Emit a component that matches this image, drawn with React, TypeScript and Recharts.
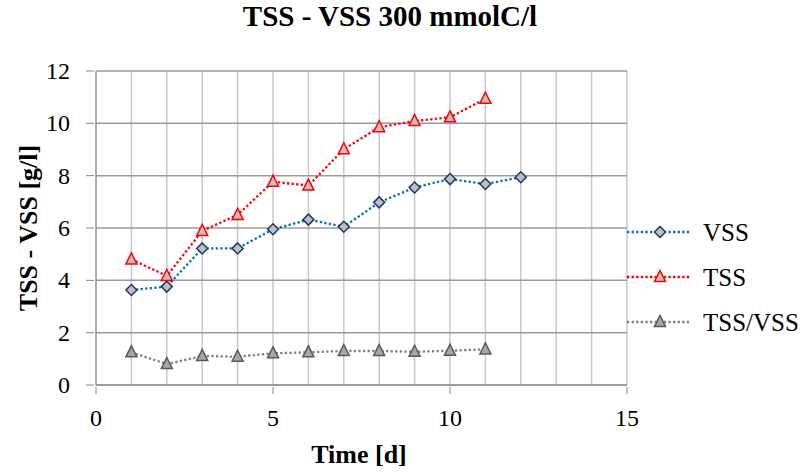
import { LineChart, Line, XAxis, YAxis, CartesianGrid } from 'recharts';

const days = [1, 2, 3, 4, 5, 6, 7, 8, 9, 10, 11, 12];
const vss = [3.63, 3.76, 5.22, 5.22, 5.95, 6.32, 6.05, 6.98, 7.55, 7.87, 7.68, 7.94];
const tss = [4.8, 4.17, 5.89, 6.5, 7.77, 7.62, 9.01, 9.85, 10.09, 10.23, 10.94, null];
const ratio = [1.25, 0.8, 1.11, 1.08, 1.21, 1.25, 1.3, 1.3, 1.27, 1.31, 1.36, null];

const xTicks = [0, 1, 2, 3, 4, 5, 6, 7, 8, 9, 10, 11, 12, 13, 14, 15];
const yTicks = [0, 2, 4, 6, 8, 10, 12];

const data = days.map((d, i) => ({ day: d, vss: vss[i], tss: tss[i], ratio: ratio[i] }));

const FONT = '"Times New Roman", "Liberation Serif", serif';
const DOTS = '2.3 2.3';
const textStyle = { fontFamily: FONT, fontSize: 24, fill: '#000' };
const boldStyle = { fontFamily: FONT, fontSize: 26, fontWeight: 'bold', fill: '#000' };

const series = [
    { key: 'vss', name: 'VSS', color: '#0070C0', shape: 'diamond', fill: '#BFBFBF', stroke: '#1F3864' },
    { key: 'tss', name: 'TSS', color: '#FF0000', shape: 'triangle', fill: '#BFBFBF', stroke: '#FF0000' },
    { key: 'ratio', name: 'TSS/VSS', color: '#7F7F7F', shape: 'triangle', fill: '#A6A6A6', stroke: '#595959' }
];

function Marker({ cx, cy, shape, fill, stroke }: any) {
    if (cx == null || cy == null) return null;
    if (shape === 'diamond') {
        const r = 5.5;
        return (
            <path
                d={`M${cx},${cy - r} L${cx + r},${cy} L${cx},${cy + r} L${cx - r},${cy} Z`}
                fill={fill}
                stroke={stroke}
                strokeWidth={1.5}
            />
        );
    }
    return (
        <path
            d={`M${cx},${cy - 6.5} L${cx + 5.5},${cy + 4.5} L${cx - 5.5},${cy + 4.5} Z`}
            fill={fill}
            stroke={stroke}
            strokeWidth={1.5}
        />
    );
}

function XTick({ x, y, payload }: any) {
    if (payload.value % 5 !== 0) return null;
    return (
        <g>
            <line x1={x} y1={y - 6} x2={x} y2={y + 1} stroke="#868686" />
            <text x={x} y={y + 33} textAnchor="middle" style={textStyle}>
                {payload.value}
            </text>
        </g>
    );
}

function YTick({ x, y, payload }: any) {
    return (
        <g>
            <line x1={x - 2} y1={y} x2={x + 6} y2={y} stroke="#868686" />
            <text x={x - 18} y={y + 8} textAnchor="end" style={textStyle}>
                {payload.value}
            </text>
        </g>
    );
}

// legend drawn straight into the svg so it does not shrink the plot area
function LegendItems() {
    return (
        <g>
            {series.map((s, i) => {
                const y = 232 + i * 45;
                return (
                    <g key={s.key}>
                        <line x1={627} y1={y} x2={691} y2={y} stroke={s.color} strokeWidth={2.3} strokeDasharray={DOTS} />
                        <Marker cx={660} cy={y} shape={s.shape} fill={s.fill} stroke={s.stroke} />
                        <text x={703} y={y + 9} style={{ ...textStyle, fontSize: 25 }}>
                            {s.name}
                        </text>
                    </g>
                );
            })}
        </g>
    );
}

export default function App() {
    return (
        <div style={{ position: 'absolute', left: 0, top: 0, width: 806, height: 472, background: '#fff' }}>
            <LineChart width={806} height={472} data={data} margin={{ top: 71, right: 179, bottom: 37, left: 46 }}>
                <text x={390} y={26} textAnchor="middle" style={{ ...boldStyle, fontSize: 29 }}>
                    TSS - VSS 300 mmolC/l
                </text>
                <text x={359} y={463} textAnchor="middle" style={boldStyle}>
                    Time [d]
                </text>
                <text x={37} y={228} textAnchor="middle" transform="rotate(-90 37 228)" style={boldStyle}>
                    TSS - VSS [g/l]
                </text>
                <CartesianGrid horizontal={false} stroke="#C8C8C8" strokeWidth={1.5} />
                <CartesianGrid vertical={false} stroke="#9A9A9A" strokeWidth={1.5} />
                <XAxis
                    dataKey="day"
                    type="number"
                    domain={[0, 15]}
                    ticks={xTicks}
                    interval={0}
                    height={50}
                    stroke="#868686"
                    tickLine={false}
                    tick={<XTick />}
                />
                <YAxis
                    type="number"
                    domain={[0, 12]}
                    ticks={yTicks}
                    width={50}
                    stroke="#868686"
                    tickLine={false}
                    tick={<YTick />}
                />
                <LegendItems />
                {series.map((s) => (
                    <Line
                        key={s.key}
                        dataKey={s.key}
                        name={s.name}
                        type="linear"
                        stroke={s.color}
                        strokeWidth={2.3}
                        strokeDasharray={DOTS}
                        connectNulls={false}
                        dot={(p: any) => <Marker key={`${s.key}-${p.index}`} cx={p.cx} cy={p.cy} shape={s.shape} fill={s.fill} stroke={s.stroke} />}
                        activeDot={false}
                        isAnimationActive={false}
                    />
                ))}
            </LineChart>
        </div>
    );
}
